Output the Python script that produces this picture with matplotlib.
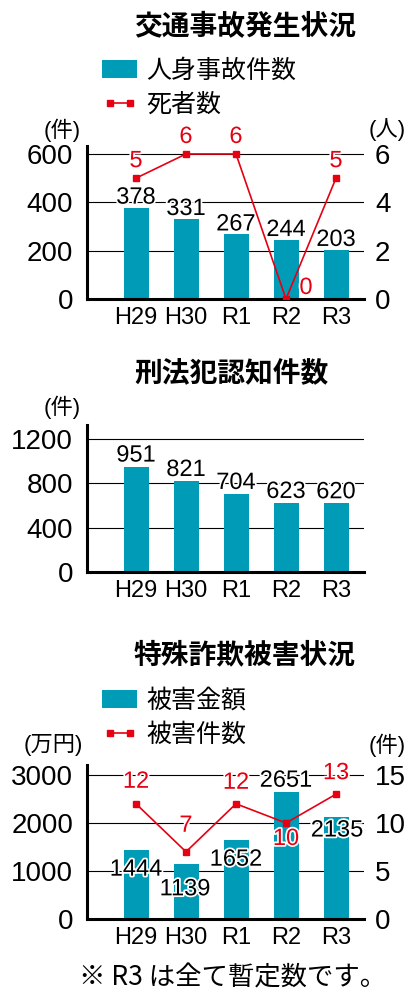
import matplotlib
matplotlib.use('Agg')
import matplotlib.pyplot as plt
import matplotlib.patheffects as pe

plt.rcParams['font.family'] = ['Liberation Sans', 'Noto Sans CJK JP']

# データ
years = ['H29', 'H30', 'R1', 'R2', 'R3']
accidents = [378, 331, 267, 244, 203]      # 人身事故件数
deaths = [5, 6, 6, 0, 5]                   # 死者数
crimes = [951, 821, 704, 623, 620]         # 刑法犯認知件数
fraud_amount = [1444, 1139, 1652, 2651, 2135]  # 被害金額（万円）
fraud_cases = [12, 7, 12, 10, 13]          # 被害件数

TEAL = '#009bb6'
RED = '#e60012'
W, H = 407, 1001
fig = plt.figure(figsize=(W / 100, H / 100), dpi=100)
stroke = [pe.withStroke(linewidth=2.5, foreground='white')]
x = list(range(len(years)))


def fx(v):
    return v / W


def fy(v):
    return 1 - v / H


def make_ax(top, bottom, ymax, ticks):
    ax = fig.add_axes([fx(87), fy(bottom), fx(364 - 87), (bottom - top) / H])
    ax.set_xlim(-0.98, 4.56)
    ax.set_ylim(0, ymax)
    ax.set_yticks(ticks)
    ax.set_xticks(x, years)
    ax.tick_params(length=0, labelsize=20)
    ax.tick_params(axis='y', pad=10)
    ax.tick_params(axis='x', pad=6, labelsize=17)
    for s in ['top', 'right']:
        ax.spines[s].set_visible(False)
    for s in ['left', 'bottom']:
        ax.spines[s].set_linewidth(2.2)
    ax.grid(axis='y', color='black', linewidth=0.8)
    ax.set_axisbelow(True)
    return ax


def right_ax(ax, ymax, ticks):
    ax2 = ax.twinx()
    ax2.set_ylim(0, ymax)
    ax2.set_yticks(ticks)
    ax2.tick_params(length=0, labelsize=20, pad=8)
    for s in ax2.spines.values():
        s.set_visible(False)
    return ax2


def bar_labels(ax, vals, offsets, va='center', color='black'):
    for xi, v, (dx, dy) in zip(x, vals, offsets):
        ax.annotate(str(v), (xi, v), xytext=(dx, dy), textcoords='offset pixels',
                    ha='center', va=va, fontsize=17, color=color, path_effects=stroke)


def title(text, y):
    fig.text(fx(134), fy(y), text, fontsize=20, fontweight='bold',
             family='Noto Sans CJK JP', ha='left', va='center')


def legend(handles, labels, top):
    fig.legend(handles, labels, loc='upper left', bbox_to_anchor=(fx(102), fy(top)),
               frameon=False, handlelength=1.4, handleheight=0.75,
               handletextpad=0.36, labelspacing=0.3, borderpad=0, borderaxespad=0,
               numpoints=2, prop={'family': 'Noto Sans CJK JP', 'size': 18})


# 交通事故発生状況
title('交通事故発生状況', 27)
ax1 = make_ax(146, 299, 633, [0, 200, 400, 600])
b1 = ax1.bar(x, accidents, width=0.5, color=TEAL)
bar_labels(ax1, accidents, [(0, 10)] * 5)
ax1r = right_ax(ax1, 6.33, [0, 2, 4, 6])
l1, = ax1r.plot(x, deaths, color=RED, lw=1.2, marker='s', ms=5)
bar_labels(ax1r, deaths, [(0, 17), (0, 17), (0, 17), (20, 11), (0, 17)], color=RED)
legend([b1, l1], ['人身事故件数', '死者数'], 58)
fig.text(fx(44), fy(130), '(件)', fontsize=16, va='center', ha='left')
fig.text(fx(406), fy(130), '(人)', fontsize=16, va='center', ha='right')

# 刑法犯認知件数
title('刑法犯認知件数', 373)
ax2 = make_ax(425, 572, 1326, [0, 400, 800, 1200])
ax2.bar(x, crimes, width=0.5, color=TEAL)
bar_labels(ax2, crimes, [(0, 0)] * 5, va='bottom')
fig.text(fx(44), fy(407), '(件)', fontsize=16, va='center', ha='left')

# 特殊詐欺被害状況
title('特殊詐欺被害状況', 655)
ax3 = make_ax(765, 919, 3208, [0, 1000, 2000, 3000])
b3 = ax3.bar(x, fraud_amount, width=0.5, color=TEAL)
bar_labels(ax3, fraud_amount, [(0, -20), (-1, -25), (0, -20), (0, 11), (1, -14)])
ax3r = right_ax(ax3, 16.04, [0, 5, 10, 15])
l3, = ax3r.plot(x, fraud_cases, color=RED, lw=1.2, marker='s', ms=5)
bar_labels(ax3r, fraud_cases, [(0, 22), (0, 26), (0, 21), (0, -16), (0, 21)], color=RED)
legend([b3, l3], ['被害金額', '被害件数'], 688)
fig.text(fx(24), fy(745), '(万円)', fontsize=16, va='center', ha='left')
fig.text(fx(406), fy(745), '(件)', fontsize=16, va='center', ha='right')

fig.text(fx(233), fy(978), '※ R3 は全て暫定数です。', fontsize=19,
         family='Noto Sans CJK JP', ha='center', va='center')

fig.savefig('out.png', dpi=100)
